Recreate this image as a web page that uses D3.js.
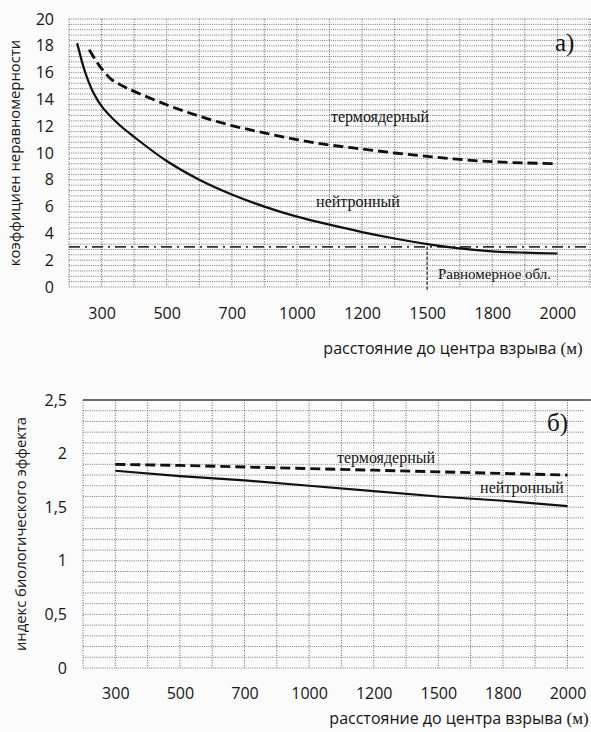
<!DOCTYPE html>
<html>
<head>
<meta charset="utf-8">
<script src="https://cdn.jsdelivr.net/npm/d3@7"></script>
<style>
  body { margin: 0; background: #fbfbfb; }
  svg { display: block; }
</style>
</head>
<body>
<svg id="chart" width="591" height="732"></svg>
<script>
// x axis labels (category-like axis, labels evenly spaced)
const xLabels = [300, 500, 700, 1000, 1200, 1500, 1800, 2000];
// distance at each vertical grid line (16 intervals)
const xGrid = [200, 300, 400, 500, 600, 700, 850, 1000, 1100, 1200, 1350, 1500, 1650, 1800, 1900, 2000, 2100];

// panel a) - коэффициент неравномерности
const neutronTopX = [225, 250, 275, 300, 350, 400, 500, 600, 700, 850, 1000, 1100, 1200, 1350, 1500, 1650, 1800, 1900, 2000];
const neutronTopY = [18.2, 16.0, 14.5, 13.5, 12.2, 11.2, 9.4, 8.0, 6.9, 6.0, 5.25, 4.65, 4.1, 3.62, 3.2, 2.88, 2.66, 2.56, 2.5];
const thermoTopX = [262, 280, 300, 330, 365, 400, 500, 600, 700, 850, 1000, 1100, 1200, 1350, 1500, 1650, 1800, 1900, 2000];
const thermoTopY = [17.7, 17.0, 16.3, 15.5, 15.0, 14.6, 13.6, 12.75, 12.05, 11.5, 11.0, 10.6, 10.3, 10.0, 9.75, 9.52, 9.35, 9.26, 9.2];
const uniformLevel = 3;
const uniformDist = 1500;
const topYTicks = [0, 2, 4, 6, 8, 10, 12, 14, 16, 18, 20];

// panel б) - индекс биологического эффекта
const bottomX = [300, 500, 700, 1000, 1200, 1500, 1800, 2000];
const neutronBottom = [1.84, 1.79, 1.75, 1.70, 1.65, 1.60, 1.56, 1.51];
const thermoBottom = [1.90, 1.89, 1.875, 1.86, 1.845, 1.83, 1.815, 1.80];
const bottomYTicks = [0, 0.5, 1, 1.5, 2, 2.5];

const svg = d3.select("#chart");
const sans = "'Open Sans', 'Noto Sans', sans-serif";
const serif = "'Liberation Serif', 'DejaVu Serif', serif";
const ink = "#151515";
const ru = d3.formatLocale({decimal: ",", thousands: " ", grouping: [3], currency: ["", ""]});

function panel(opt) {
  const g = svg.append("g");
  const step = opt.step;
  const x = d3.scaleLinear()
    .domain(xGrid)
    .range(xGrid.map((d, i) => opt.left + i * step));
  const y = d3.scaleLinear().domain(opt.yDomain).range([opt.bottom, opt.top]);
  const right = opt.gridRight;

  // horizontal grid
  g.append("g").selectAll("line")
    .data(opt.hGrid)
    .join("line")
    .attr("x1", opt.left).attr("x2", right)
    .attr("y1", d => y(d)).attr("y2", d => y(d))
    .attr("stroke", "#7a7a7a")
    .attr("stroke-width", 1)
    .attr("stroke-dasharray", "1,1.2");

  // vertical grid
  g.append("g").selectAll("line")
    .data(xGrid)
    .join("line")
    .attr("x1", d => x(d)).attr("x2", d => x(d))
    .attr("y1", opt.top).attr("y2", opt.bottom)
    .attr("stroke", "#666")
    .attr("stroke-width", 1)
    .attr("stroke-dasharray", "1,1.5");

  // y tick labels
  const yAxis = g.append("g")
    .attr("transform", `translate(${opt.yLabelX},0)`)
    .call(d3.axisLeft(y).tickValues(opt.yTicks).tickSize(0).tickPadding(0).tickFormat(ru.format("~g")));
  yAxis.select(".domain").remove();
  yAxis.selectAll("text").attr("font-family", sans).attr("font-size", 16).attr("fill", ink);

  // x tick labels
  const xAxis = g.append("g")
    .attr("transform", `translate(0,${opt.xLabelY})`)
    .call(d3.axisBottom(x).tickValues(xLabels).tickSize(0).tickPadding(0).tickFormat(d => d));
  xAxis.select(".domain").remove();
  xAxis.selectAll("text").attr("font-family", sans).attr("font-size", 16).attr("fill", ink);

  // axis titles
  const xt = g.append("text")
    .attr("x", opt.xTitleX).attr("y", opt.xTitleY)
    .attr("text-anchor", "middle")
    .attr("font-family", sans).attr("font-size", 16).attr("fill", ink);
  xt.append("tspan").text("расстояние до центра взрыва ");
  xt.append("tspan").attr("font-family", serif).attr("font-size", 17).text("(м)");

  g.append("text")
    .attr("transform", `translate(${opt.yTitleX},${opt.yTitleY}) rotate(-90)`)
    .attr("text-anchor", "middle")
    .attr("font-family", sans).attr("font-size", opt.yTitleSize).attr("fill", ink)
    .text(opt.yTitle);

  return {g, x, y};
}

// ---------- panel a)
const a = panel({
  left: 69, step: 32.56, top: 19, bottom: 287, gridRight: 591,
  yDomain: [0, 20], yTicks: topYTicks,
  hGrid: d3.range(0, 51).map(i => i * 0.4),
  yLabelX: 54, xLabelY: 308,
  xTitleX: 453, xTitleY: 354,
  yTitleX: 20, yTitleY: 153, yTitleSize: 14.8,
  yTitle: "коэффициен неравномерности"
});

// uniform exposure level (dash-dot)
a.g.append("line")
  .attr("x1", 69).attr("x2", 591)
  .attr("y1", a.y(uniformLevel)).attr("y2", a.y(uniformLevel))
  .attr("stroke", "#333").attr("stroke-width", 1.8)
  .attr("stroke-dasharray", "11,5,2,5");

a.g.append("line")
  .attr("x1", a.x(uniformDist)).attr("x2", a.x(uniformDist))
  .attr("y1", a.y(uniformLevel)).attr("y2", 292)
  .attr("stroke", "#333").attr("stroke-width", 1.3)
  .attr("stroke-dasharray", "3,2");

const lineTop = d3.line().x(d => a.x(d[0])).y(d => a.y(d[1])).curve(d3.curveCatmullRom.alpha(0.5));
a.g.append("path")
  .attr("d", lineTop(d3.zip(neutronTopX, neutronTopY)))
  .attr("fill", "none").attr("stroke", "#111").attr("stroke-width", 2.2);
a.g.append("path")
  .attr("d", lineTop(d3.zip(thermoTopX, thermoTopY)))
  .attr("fill", "none").attr("stroke", "#111").attr("stroke-width", 2.8)
  .attr("stroke-dasharray", "10,5");

a.g.append("text").attr("x", 380).attr("y", 122).attr("text-anchor", "middle")
  .attr("font-family", serif).attr("font-size", 16).attr("fill", ink).text("термоядерный");
a.g.append("text").attr("x", 358).attr("y", 207).attr("text-anchor", "middle")
  .attr("font-family", serif).attr("font-size", 16).attr("fill", ink).text("нейтронный");
a.g.append("text").attr("x", 438).attr("y", 279)
  .attr("font-family", serif).attr("font-size", 15).attr("fill", ink).text("Равномерное обл.");
a.g.append("text").attr("x", 555).attr("y", 51)
  .attr("font-family", serif).attr("font-size", 25).attr("fill", ink).text("а)");

// ---------- panel б)
const b = panel({
  left: 83, step: 32.3, top: 400, bottom: 668, gridRight: 584,
  yDomain: [0, 2.5], yTicks: bottomYTicks,
  hGrid: d3.range(0, 26).map(i => i * 0.1),
  yLabelX: 67, xLabelY: 688,
  xTitleX: 459, xTitleY: 724,
  yTitleX: 26, yTitleY: 534, yTitleSize: 14.8,
  yTitle: "индекс биологического эффекта"
});

b.g.append("line")
  .attr("x1", 83).attr("x2", 591)
  .attr("y1", b.y(2.5)).attr("y2", b.y(2.5))
  .attr("stroke", "#444").attr("stroke-width", 1.5);

const lineBottom = d3.line().x(d => b.x(d[0])).y(d => b.y(d[1]));
b.g.append("path")
  .attr("d", lineBottom(d3.zip(bottomX, neutronBottom)))
  .attr("fill", "none").attr("stroke", "#111").attr("stroke-width", 2.2);
b.g.append("path")
  .attr("d", lineBottom(d3.zip(bottomX, thermoBottom)))
  .attr("fill", "none").attr("stroke", "#111").attr("stroke-width", 2.8)
  .attr("stroke-dasharray", "10,5");

b.g.append("text").attr("x", 386).attr("y", 463).attr("text-anchor", "middle")
  .attr("font-family", serif).attr("font-size", 16).attr("fill", ink).text("термоядерный");
b.g.append("text").attr("x", 522).attr("y", 493).attr("text-anchor", "middle")
  .attr("font-family", serif).attr("font-size", 16).attr("fill", ink).text("нейтронный");
b.g.append("text").attr("x", 547).attr("y", 431)
  .attr("font-family", serif).attr("font-size", 25).attr("fill", ink).text("б)");
</script>
</body>
</html>
